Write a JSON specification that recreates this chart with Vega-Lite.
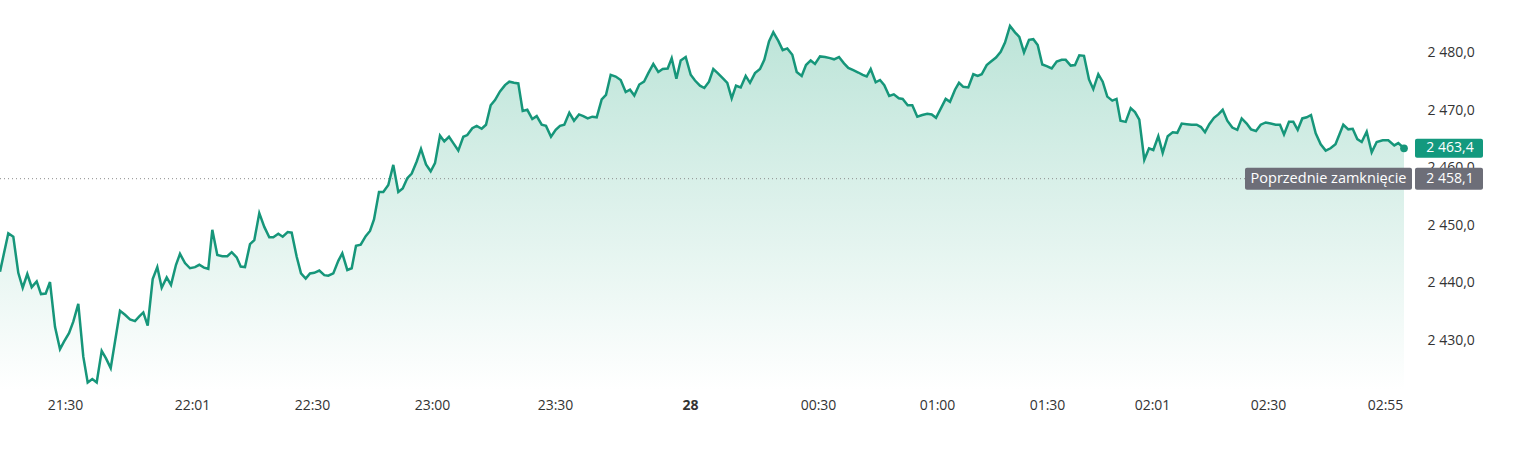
{
  "$schema": "https://vega.github.io/schema/vega-lite/v6.json",
  "width": 1405,
  "height": 390,
  "autosize": {"type": "none"},
  "padding": {"left": 0, "top": 0, "right": 110, "bottom": 76},
  "background": "white",
  "config": {"view": {"stroke": null}, "font": "Open Sans"},
  "datasets": {
    "prices": [
      {"i":0,"v":2441.9},{"i":8.3,"v":2448.6},{"i":13.3,"v":2448.0},{"i":18.3,"v":2441.7},{"i":22.7,"v":2439.1},{"i":27.3,"v":2441.5},{"i":31.7,"v":2439.2},{"i":36.7,"v":2440.2},{"i":41,"v":2438.0},{"i":45.7,"v":2438.1},{"i":50,"v":2440.1},{"i":55,"v":2432.3},{"i":60,"v":2428.4},{"i":64,"v":2429.7},{"i":69,"v":2431.2},{"i":73.3,"v":2433.2},{"i":78.3,"v":2436.3},{"i":83.3,"v":2427.1},{"i":87.7,"v":2422.6},{"i":92.3,"v":2423.2},{"i":96.7,"v":2422.6},{"i":101.7,"v":2428.1},{"i":106,"v":2426.8},{"i":110.7,"v":2425.1},{"i":120,"v":2435.1},{"i":125,"v":2434.4},{"i":130,"v":2433.6},{"i":135,"v":2433.3},{"i":139.3,"v":2434.1},{"i":143.3,"v":2434.8},{"i":147.7,"v":2432.5},{"i":152.7,"v":2440.6},{"i":157.3,"v":2442.7},{"i":161.7,"v":2439.1},{"i":166.7,"v":2440.9},{"i":171,"v":2439.6},{"i":176,"v":2443.1},{"i":180,"v":2445.0},{"i":185,"v":2443.4},{"i":190,"v":2442.5},{"i":195,"v":2442.7},{"i":199.3,"v":2443.1},{"i":204,"v":2442.6},{"i":208.3,"v":2442.4},{"i":212.3,"v":2449.2},{"i":217.3,"v":2444.8},{"i":222.3,"v":2444.6},{"i":227.3,"v":2444.6},{"i":231.7,"v":2445.3},{"i":236.7,"v":2444.4},{"i":240.7,"v":2442.8},{"i":245,"v":2442.7},{"i":250,"v":2446.7},{"i":254.3,"v":2447.4},{"i":259.3,"v":2452.1},{"i":264.3,"v":2449.7},{"i":269.3,"v":2447.9},{"i":273.3,"v":2447.9},{"i":278.3,"v":2448.5},{"i":282.7,"v":2448.0},{"i":287.7,"v":2448.8},{"i":291.7,"v":2448.7},{"i":296.7,"v":2444.5},{"i":301,"v":2441.6},{"i":305.7,"v":2440.7},{"i":310,"v":2441.6},{"i":314.3,"v":2441.7},{"i":319.3,"v":2442.1},{"i":324.3,"v":2441.3},{"i":328.3,"v":2441.2},{"i":333.3,"v":2441.6},{"i":338.3,"v":2443.8},{"i":342.3,"v":2445.1},{"i":347.3,"v":2442.2},{"i":351.7,"v":2442.5},{"i":356,"v":2446.4},{"i":360.7,"v":2446.6},{"i":365.7,"v":2448.1},{"i":370,"v":2449.0},{"i":374,"v":2451.0},{"i":379,"v":2455.8},{"i":383.3,"v":2455.8},{"i":388.3,"v":2457.0},{"i":393.3,"v":2460.5},{"i":398.3,"v":2455.8},{"i":402.7,"v":2456.4},{"i":407.3,"v":2458.2},{"i":411.7,"v":2459.0},{"i":416.7,"v":2461.1},{"i":421,"v":2463.3},{"i":426,"v":2460.6},{"i":430.7,"v":2459.4},{"i":435,"v":2460.8},{"i":440,"v":2465.6},{"i":444.3,"v":2464.6},{"i":449,"v":2465.4},{"i":453.3,"v":2464.3},{"i":458.3,"v":2463.0},{"i":463.3,"v":2465.4},{"i":467.3,"v":2465.7},{"i":472.3,"v":2466.9},{"i":476.7,"v":2467.3},{"i":481.7,"v":2466.8},{"i":486,"v":2467.5},{"i":490.7,"v":2470.9},{"i":495,"v":2471.8},{"i":500,"v":2473.3},{"i":505,"v":2474.4},{"i":509.3,"v":2475.0},{"i":514,"v":2474.8},{"i":518.3,"v":2474.7},{"i":522.7,"v":2469.9},{"i":527.3,"v":2470.1},{"i":532.3,"v":2468.5},{"i":536.7,"v":2469.0},{"i":541.7,"v":2467.5},{"i":546,"v":2467.3},{"i":551,"v":2465.4},{"i":555.7,"v":2466.6},{"i":560,"v":2467.3},{"i":564.3,"v":2467.5},{"i":569.3,"v":2469.6},{"i":574,"v":2468.2},{"i":579,"v":2469.3},{"i":583.3,"v":2469.0},{"i":587.7,"v":2468.6},{"i":592.3,"v":2468.9},{"i":596.7,"v":2468.8},{"i":601.7,"v":2471.9},{"i":606,"v":2472.7},{"i":610.7,"v":2476.2},{"i":615.7,"v":2475.9},{"i":620.7,"v":2475.3},{"i":625.7,"v":2473.2},{"i":630,"v":2473.6},{"i":634.3,"v":2472.6},{"i":639.3,"v":2474.5},{"i":644,"v":2475.0},{"i":648.3,"v":2476.5},{"i":653.3,"v":2478.1},{"i":658.3,"v":2476.7},{"i":662.7,"v":2477.2},{"i":667.7,"v":2477.3},{"i":671.7,"v":2479.1},{"i":676.4,"v":2475.5},{"i":680.7,"v":2478.7},{"i":685.7,"v":2479.3},{"i":690.7,"v":2476.2},{"i":695,"v":2475.2},{"i":700,"v":2474.3},{"i":704.3,"v":2473.9},{"i":709,"v":2475.0},{"i":713.3,"v":2477.2},{"i":717.7,"v":2476.5},{"i":722.7,"v":2475.6},{"i":727.3,"v":2474.8},{"i":731.7,"v":2472.1},{"i":736,"v":2474.3},{"i":740.7,"v":2474.0},{"i":745.7,"v":2476.0},{"i":750,"v":2474.8},{"i":755,"v":2476.5},{"i":760,"v":2477.2},{"i":764.3,"v":2478.8},{"i":769,"v":2482.0},{"i":773.3,"v":2483.6},{"i":778.3,"v":2482.1},{"i":782.7,"v":2480.5},{"i":787.3,"v":2480.8},{"i":792.3,"v":2479.7},{"i":796.7,"v":2476.7},{"i":801.7,"v":2476.0},{"i":806,"v":2477.9},{"i":810.7,"v":2478.7},{"i":815,"v":2478.1},{"i":820,"v":2479.4},{"i":825,"v":2479.3},{"i":830,"v":2479.1},{"i":834,"v":2478.9},{"i":839,"v":2479.3},{"i":844,"v":2478.2},{"i":848.3,"v":2477.4},{"i":853.3,"v":2477.0},{"i":858.3,"v":2476.6},{"i":862.7,"v":2476.2},{"i":866.7,"v":2475.9},{"i":870.7,"v":2477.2},{"i":875.7,"v":2474.9},{"i":880,"v":2475.3},{"i":884.3,"v":2474.4},{"i":889.2,"v":2472.5},{"i":893.8,"v":2472.8},{"i":898.8,"v":2472.1},{"i":902.7,"v":2472.0},{"i":907.7,"v":2470.9},{"i":912.3,"v":2470.9},{"i":917.3,"v":2468.9},{"i":922.3,"v":2469.2},{"i":927.3,"v":2469.4},{"i":931.7,"v":2469.3},{"i":936,"v":2468.7},{"i":941,"v":2470.4},{"i":945.7,"v":2472.0},{"i":950,"v":2471.5},{"i":955,"v":2473.6},{"i":959,"v":2474.8},{"i":963.3,"v":2474.1},{"i":968.3,"v":2474.0},{"i":973.3,"v":2476.3},{"i":977.7,"v":2476.0},{"i":981.7,"v":2476.3},{"i":986.7,"v":2477.9},{"i":991,"v":2478.5},{"i":996,"v":2479.2},{"i":1000.7,"v":2480.2},{"i":1005,"v":2481.8},{"i":1010,"v":2484.7},{"i":1015,"v":2483.6},{"i":1019.3,"v":2482.8},{"i":1024,"v":2480.1},{"i":1029,"v":2482.3},{"i":1033.3,"v":2482.4},{"i":1037.7,"v":2481.4},{"i":1042.3,"v":2478.0},{"i":1046.7,"v":2477.7},{"i":1051.7,"v":2477.3},{"i":1056.7,"v":2478.5},{"i":1061.7,"v":2478.8},{"i":1065.7,"v":2478.8},{"i":1070.7,"v":2477.8},{"i":1075,"v":2477.9},{"i":1079.3,"v":2479.6},{"i":1084,"v":2479.5},{"i":1089,"v":2475.4},{"i":1093.3,"v":2473.7},{"i":1098.3,"v":2476.3},{"i":1102.7,"v":2475.0},{"i":1107.3,"v":2472.4},{"i":1112.3,"v":2471.7},{"i":1116.5,"v":2472.0},{"i":1120.5,"v":2468.2},{"i":1125.7,"v":2468.0},{"i":1130.7,"v":2470.4},{"i":1135,"v":2469.7},{"i":1139.3,"v":2468.4},{"i":1144.3,"v":2461.4},{"i":1149,"v":2463.4},{"i":1153.3,"v":2463.1},{"i":1158.3,"v":2465.5},{"i":1162.7,"v":2462.6},{"i":1167.7,"v":2465.5},{"i":1172.7,"v":2466.2},{"i":1177.3,"v":2466.1},{"i":1181.7,"v":2467.7},{"i":1186.7,"v":2467.6},{"i":1191.7,"v":2467.5},{"i":1196.7,"v":2467.5},{"i":1201,"v":2467.1},{"i":1205,"v":2466.2},{"i":1209.3,"v":2467.6},{"i":1214,"v":2468.7},{"i":1218.3,"v":2469.3},{"i":1222.7,"v":2470.1},{"i":1227.3,"v":2468.2},{"i":1232.3,"v":2467.0},{"i":1237.3,"v":2466.6},{"i":1241.7,"v":2468.6},{"i":1246.7,"v":2467.7},{"i":1251,"v":2466.7},{"i":1256,"v":2466.4},{"i":1260.7,"v":2467.5},{"i":1265.7,"v":2467.9},{"i":1270.7,"v":2467.7},{"i":1275.7,"v":2467.5},{"i":1280,"v":2467.5},{"i":1284,"v":2465.8},{"i":1289,"v":2468.0},{"i":1293.3,"v":2468.0},{"i":1297.7,"v":2466.6},{"i":1302.3,"v":2468.6},{"i":1306.7,"v":2468.8},{"i":1311,"v":2469.2},{"i":1315.7,"v":2466.0},{"i":1320.7,"v":2464.1},{"i":1325.7,"v":2463.0},{"i":1330.5,"v":2463.4},{"i":1335.5,"v":2464.1},{"i":1343.3,"v":2467.5},{"i":1348.3,"v":2466.7},{"i":1352.7,"v":2466.8},{"i":1357.3,"v":2465.0},{"i":1361.7,"v":2464.5},{"i":1366.7,"v":2466.3},{"i":1371.7,"v":2462.7},{"i":1376.7,"v":2464.5},{"i":1382.7,"v":2464.8},{"i":1388.3,"v":2464.8},{"i":1394.3,"v":2463.9},{"i":1398.3,"v":2464.3},{"i":1404,"v":2463.4}
    ],
    "tags": [
      {"kind": "last", "label": "2 463,4", "v": 2463.4},
      {"kind": "prev", "label": "2 458,1", "v": 2458.1},
      {"kind": "prevname", "label": "Poprzednie zamknięcie", "v": 2458.1}
    ]
  },
  "layer": [
    {
      "data": {"name": "prices"},
      "mark": {
        "type": "area",
        "color": {
          "gradient": "linear", "x1": 0, "y1": 0, "x2": 0, "y2": 1,
          "stops": [{"offset": 0, "color": "#bce4d8"}, {"offset": 1, "color": "#ffffff"}]
        }
      },
      "encoding": {
        "x": {
          "field": "i", "type": "quantitative",
          "scale": {"domain": [0, 1405], "nice": false, "zero": false},
          "axis": {
            "values": [65, 192, 312, 432, 555, 690, 818, 937, 1047, 1152, 1268, 1385],
            "labelExpr": "['21:30','22:01','22:30','23:00','23:30','28','00:30','01:00','01:30','02:01','02:30','02:55'][indexof([65,192,312,432,555,690,818,937,1047,1152,1268,1385], datum.value)]",
            "title": null, "domain": false, "ticks": false, "grid": false,
            "labelPadding": 8, "labelFontSize": 14, "labelColor": "#333333", "labelFont": "Open Sans",
            "labelFontWeight": {"condition": {"test": "datum.value === 690", "value": "bold"}, "value": "normal"},
            "labelFlush": false, "labelOverlap": false
          }
        },
        "y": {
          "field": "v", "type": "quantitative",
          "scale": {"domain": [2421.29, 2489.23], "nice": false, "zero": false},
          "axis": {
            "orient": "right",
            "values": [2430, 2440, 2450, 2460, 2470, 2480],
            "labelExpr": "replace(replace(format(datum.value, ',.1f'), ',', ' '), '.', ',')",
            "title": null, "domain": false, "ticks": false, "grid": false,
            "labelPadding": 22, "labelAlign": "left", "labelFontSize": 14, "labelColor": "#333333", "labelFont": "Open Sans"
          }
        },
        "y2": {"datum": 2421.29}
      }
    },
    {
      "data": {"name": "tags"},
      "transform": [{"filter": "datum.kind === 'prev'"}],
      "mark": {"type": "rule", "color": "#8a8a8a", "strokeWidth": 1, "strokeDash": [1, 3]},
      "encoding": {"y": {"field": "v", "type": "quantitative"}}
    },
    {
      "data": {"name": "prices"},
      "mark": {"type": "line", "color": "#16967a", "strokeWidth": 2.5},
      "encoding": {
        "x": {"field": "i", "type": "quantitative"},
        "y": {"field": "v", "type": "quantitative"}
      }
    },
    {
      "data": {"name": "prices"},
      "transform": [{"filter": "datum.i === 1404"}],
      "mark": {"type": "circle", "color": "#16967a", "size": 60, "opacity": 1},
      "encoding": {
        "x": {"field": "i", "type": "quantitative"},
        "y": {"field": "v", "type": "quantitative"}
      }
    },
    {
      "data": {"name": "tags"},
      "transform": [{"filter": "datum.kind === 'last'"}],
      "mark": {"type": "rect", "color": "#13997e", "width": 68, "height": 19, "cornerRadius": 2},
      "encoding": {
        "x": {"datum": 1449, "type": "quantitative"},
        "y": {"field": "v", "type": "quantitative"}
      }
    },
    {
      "data": {"name": "tags"},
      "transform": [{"filter": "datum.kind === 'prev'"}],
      "mark": {"type": "rect", "color": "#6d6e78", "width": 68, "height": 22, "cornerRadius": 2},
      "encoding": {
        "x": {"datum": 1449, "type": "quantitative"},
        "y": {"field": "v", "type": "quantitative"}
      }
    },
    {
      "data": {"name": "tags"},
      "transform": [{"filter": "datum.kind === 'prevname'"}],
      "mark": {"type": "rect", "color": "#6d6e78", "width": 167, "height": 22, "cornerRadius": 2},
      "encoding": {
        "x": {"datum": 1328.5, "type": "quantitative"},
        "y": {"field": "v", "type": "quantitative"}
      }
    },
    {
      "data": {"name": "tags"},
      "transform": [{"filter": "datum.kind !== 'prevname'"}],
      "mark": {"type": "text", "color": "#ffffff", "fontSize": 14, "font": "Open Sans", "align": "center", "baseline": "middle"},
      "encoding": {
        "x": {"datum": 1450, "type": "quantitative"},
        "y": {"field": "v", "type": "quantitative"},
        "text": {"field": "label"}
      }
    },
    {
      "data": {"name": "tags"},
      "transform": [{"filter": "datum.kind === 'prevname'"}],
      "mark": {"type": "text", "color": "#ffffff", "fontSize": 14.5, "font": "Open Sans", "align": "center", "baseline": "middle"},
      "encoding": {
        "x": {"datum": 1328.5, "type": "quantitative"},
        "y": {"field": "v", "type": "quantitative"},
        "text": {"field": "label"}
      }
    }
  ]
}
